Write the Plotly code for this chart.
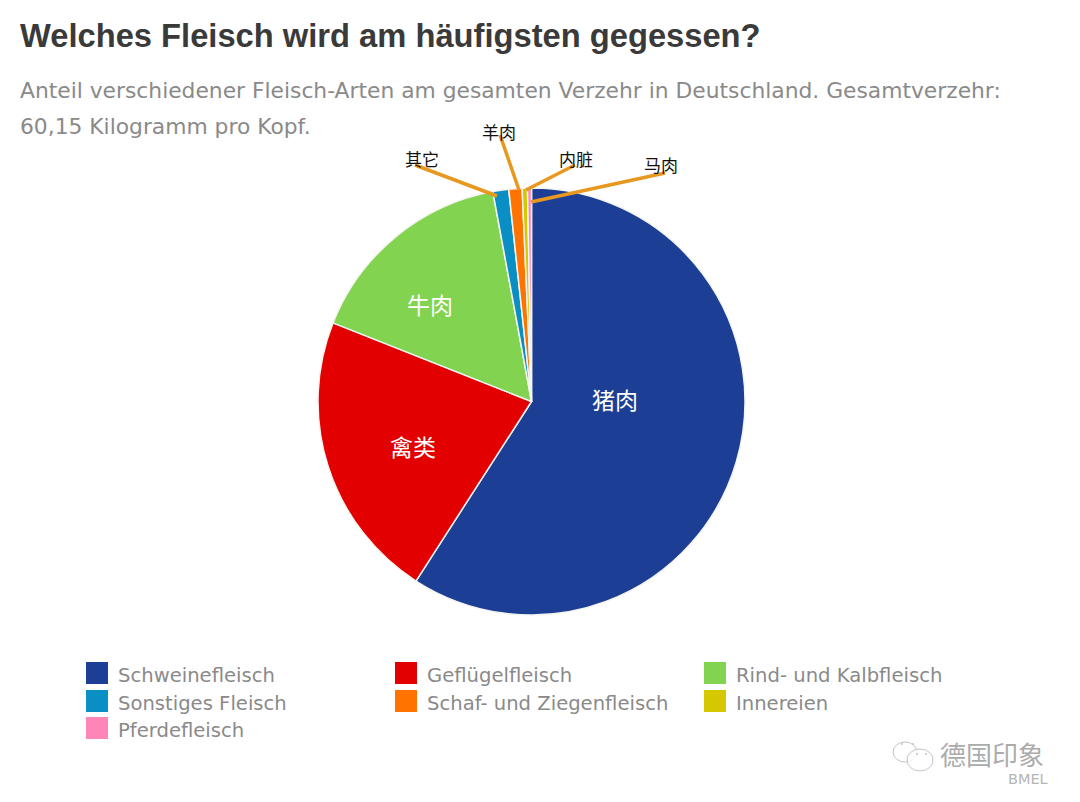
import plotly.graph_objects as go

# Anteile in Prozent
meat_types = ['Schweinefleisch', 'Geflügelfleisch', 'Rind- und Kalbfleisch', 'Sonstiges Fleisch',
              'Schaf- und Ziegenfleisch', 'Innereien', 'Pferdefleisch']
shares = [59.1, 21.9, 16.1, 1.2, 1.0, 0.4, 0.3]
colors = ['#1C3F95', '#E30000', '#82D350', '#0A8FC4', '#FF7300', '#D6C800', '#FF85B8']

title_text = 'Welches Fleisch wird am häufigsten gegessen?'
subtitle_lines = ['Anteil verschiedener Fleisch-Arten am gesamten Verzehr in Deutschland. Gesamtverzehr:',
                  '60,15 Kilogramm pro Kopf.']
inner_labels = ['猪肉', '禽类', '牛肉']
outer_labels = ['其它', '羊肉', '内脏', '马肉']
watermark = '德国印象'
source = 'BMEL'

# die Seite hat 8px Rand, deshalb etwas kleiner als das Fenster
OFFSET = 8
W, H = 1064, 786


def px(x):
    return (x - OFFSET) / W


def py(y):
    return 1 - (y - OFFSET) / H


def text(x, y, s, size, color, family, anchor='left', bold=False):
    return dict(x=px(x), y=py(y), xref='paper', yref='paper', text=f'<b>{s}</b>' if bold else s,
                showarrow=False, xanchor=anchor, yanchor='middle',
                font=dict(size=size, color=color, family=family))


fig = go.Figure(go.Pie(
    labels=meat_types,
    values=shares,
    sort=False,
    direction='clockwise',
    rotation=0,
    textinfo='none',
    hoverinfo='label+percent',
    showlegend=False,
    marker=dict(colors=colors, line=dict(color='#F4F4F0', width=1.5)),
    domain=dict(x=[px(318), px(745)], y=[py(615), py(188)]),
))

CJK = 'Noto Sans CJK SC'
SANS = 'DejaVu Sans'
annotations = [text(18, 35, title_text, 32.7, '#3A3A3A', 'Liberation Sans', bold=True)]
for y, line in zip([91, 126], subtitle_lines):
    annotations.append(text(18, y, line, 21.8, '#8A8A8A', SANS))

for s, (x, y) in zip(inner_labels, [(615, 399), (413, 446), (430, 304)]):
    annotations.append(text(x, y, s, 23, 'white', CJK, anchor='center'))

# Beschriftungen mit Fuehrungslinien
leaders = [(415, 165, 497, 196), (500, 135, 519, 190), (575, 165, 526, 190), (665, 173, 531, 202)]
label_pos = [(422, 158), (499, 132), (576, 159), (661, 165)]
shapes = []
for s, (x, y), (x0, y0, x1, y1) in zip(outer_labels, label_pos, leaders):
    annotations.append(text(x, y, s, 17, '#111111', CJK, anchor='center'))
    shapes.append(dict(type='line', xref='paper', yref='paper', x0=px(x0), y0=py(y0), x1=px(x1), y1=py(y1),
                       line=dict(color='#E8981F', width=3.5)))

# Legende, drei Spalten
col_x = [86, 395, 704]
row_y = [673, 701, 728]
for i, (name, color) in enumerate(zip(meat_types, colors)):
    x = col_x[i % 3]
    y = row_y[i // 3]
    shapes.append(dict(type='rect', xref='paper', yref='paper', x0=px(x), x1=px(x + 22), y0=py(y - 11), y1=py(y + 11),
                       fillcolor=color, line=dict(width=0)))
    annotations.append(text(x + 30, y + 2, name, 19.6, '#8A8A8A', SANS))

# Wasserzeichen unten rechts
for cx, cy, r in [(905, 752, 12), (920, 760, 13)]:
    shapes.append(dict(type='circle', xref='paper', yref='paper', x0=px(cx - r), x1=px(cx + r), y0=py(cy - r + 2),
                       y1=py(cy + r - 2), fillcolor='rgba(255,255,255,0.8)', line=dict(color='#C4C4C4', width=1)))
for cx, cy in [(902, 744), (913, 744), (917, 754), (926, 754)]:
    shapes.append(dict(type='circle', xref='paper', yref='paper', x0=px(cx - 1), x1=px(cx + 1), y0=py(cy - 1),
                       y1=py(cy + 1), fillcolor='#C4C4C4', line=dict(width=0)))
annotations.append(text(992, 753, watermark, 26, '#ABABAB', CJK, anchor='center'))
annotations.append(text(1028, 779, source, 14.5, '#B5B5B5', SANS, anchor='center'))

fig.update_layout(
    width=W,
    height=H,
    margin=dict(l=0, r=0, t=0, b=0),
    paper_bgcolor='white',
    annotations=annotations,
    shapes=shapes,
)

fig.write_html('out.html')
